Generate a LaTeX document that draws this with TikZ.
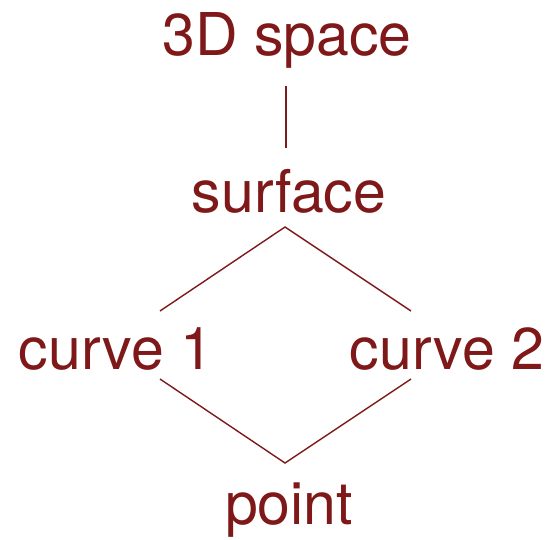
\documentclass[tikz,border=0pt]{standalone}
\usepackage{fontspec}
\setmainfont{TeX Gyre Heros}
\usetikzlibrary{calc}
\definecolor{darkred}{RGB}{127,24,24}
\begin{document}
\begin{tikzpicture}[x=1pt,y=-1pt,font=\fontsize{59}{59}\selectfont,
  lbl/.style={text=darkred,inner sep=0pt,anchor=base},
  link/.style={draw=darkred,line width=1.4pt}]
\useasboundingbox (0,0) rectangle (552,539);
\node[lbl] (space) at (287,55) {3D space};
\node[lbl] (surface) at (289,212) {surface};
\node[lbl] (curve1) at (116,369) {curve 1};
\node[lbl] (curve2) at (447,369) {curve 2};
\node[lbl] (point) at (289,524) {point};
\draw[link] ($(space.base)+(-1,31)$) -- ($(surface.base)+(-3,-64)$);
\draw[link] ($(curve1.base)+(44,-58)$) -- ($(surface.base)+(-4,15)$) -- ($(curve2.base)+(-36,-58)$);
\draw[link] ($(curve1.base)+(44,10)$) -- ($(point.base)+(-4,-61)$) -- ($(curve2.base)+(-36,10)$);
\end{tikzpicture}
\end{document}
